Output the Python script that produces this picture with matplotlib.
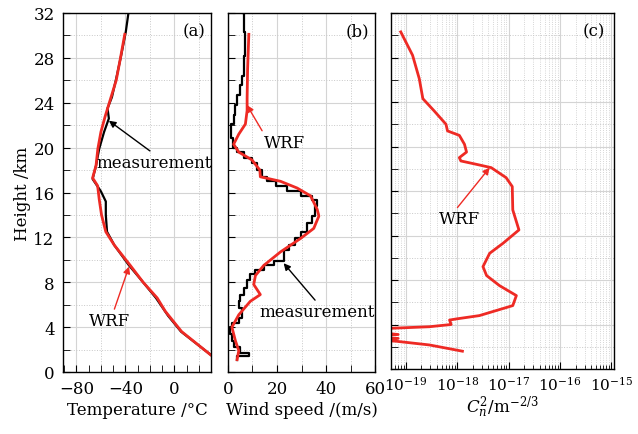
import numpy as np
import matplotlib
matplotlib.use("Agg")
import matplotlib.pyplot as plt
from matplotlib.ticker import MultipleLocator, LogLocator, NullFormatter

plt.rcParams['font.family'] = ['DejaVu Serif']
plt.rcParams['mathtext.fontset'] = 'dejavuserif'

RED = '#ee2a24'

# ---- Panel (a): temperature ----
ta_meas_h = [32.0, 30.3, 28.2, 26.4, 24.5, 23.5, 22.6, 21.4, 19.9, 18.4, 17.2, 16.1, 15.2, 14.0, 12.5, 11.3, 9.5, 8.0, 6.6, 5.0, 3.6, 1.6]
ta_meas_T = [-37.5, -39.7, -43.5, -47.0, -51.0, -54.6, -53.5, -57.4, -61.4, -64.0, -66.8, -60.0, -56.0, -56.0, -55.0, -49.0, -37.0, -25.5, -15.0, -5.0, 5.5, 29.0]
ta_wrf_h = [30.1, 28.0, 26.0, 24.4, 22.8, 21.4, 19.9, 18.4, 17.3, 16.6, 15.4, 14.0, 12.5, 11.3, 9.5, 8.0, 6.6, 5.4, 3.6, 1.5]
ta_wrf_T = [-40.5, -44.0, -47.5, -52.0, -56.5, -60.0, -62.5, -64.0, -66.8, -62.7, -61.4, -59.5, -56.0, -49.0, -36.0, -25.5, -14.0, -7.3, 6.0, 30.0]

# ---- Panel (b): wind speed ----
wb_meas_h = [32.0, 30.3, 28.2, 26.4, 25.6, 24.7, 23.8, 22.9, 22.1, 20.9, 20.0, 19.6, 19.1, 18.6, 18.0, 17.4, 17.0, 16.6, 16.1, 15.7, 15.3, 14.8, 13.9, 13.3, 12.5, 11.9, 11.3, 10.9, 10.4, 9.9, 9.5, 9.1, 8.7, 8.2, 7.5, 6.9, 6.3, 5.7, 4.8, 4.4, 4.0, 3.4, 2.8, 2.2, 1.7, 1.4, 1.1]
wb_meas_s = [6.1, 6.4, 6.8, 6.4, 5.7, 4.8, 3.7, 3.0, 2.3, 1.4, 1.9, 3.7, 6.4, 9.8, 11.9, 13.9, 16.0, 19.4, 24.1, 29.6, 34.4, 36.4, 35.7, 34.4, 32.3, 29.6, 27.5, 24.8, 23.0, 22.8, 18.7, 14.6, 11.2, 8.9, 7.8, 6.4, 5.0, 4.4, 5.7, 4.4, 1.6, 1.0, 1.6, 2.3, 5.0, 8.5, 3.7]
wb_wrf_h = [30.1, 27.0, 24.4, 23.3, 22.1, 21.2, 20.3, 19.6, 18.9, 18.0, 17.4, 17.0, 16.4, 15.7, 14.5, 13.9, 12.8, 11.9, 10.7, 9.5, 8.6, 7.8, 6.9, 6.3, 5.1, 4.0, 2.8, 1.9, 1.1]
wb_wrf_s = [8.5, 8.0, 7.8, 7.8, 7.1, 4.4, 2.3, 4.4, 9.8, 13.0, 13.2, 21.4, 28.2, 33.7, 36.4, 37.1, 35.0, 29.6, 21.4, 14.6, 11.2, 10.5, 13.2, 9.1, 4.4, 1.6, 3.0, 4.4, 3.7]

# ---- Panel (c): Cn2 (log10 values) ----
cn_h = [30.3, 28.2, 26.1, 24.3, 23.2, 22.0, 21.4, 21.0, 20.2, 19.5, 19.0, 18.7, 18.4, 18.1, 17.2, 16.4, 14.3, 12.5, 11.3, 10.4, 9.2, 8.4, 7.5, 6.6, 5.7, 4.8, 4.5, 4.4, 4.0, 3.8, 3.6, 3.3, 3.1, 3.0, 2.85, 2.75, 2.6, 2.5, 2.16, 1.6]
cn_log = [-19.1, -18.87, -18.74, -18.67, -18.45, -18.22, -18.19, -17.96, -17.86, -17.82, -17.96, -17.93, -17.63, -17.34, -17.05, -16.93, -16.92, -16.8, -17.11, -17.37, -17.5, -17.43, -17.18, -16.85, -16.92, -17.57, -18.02, -18.15, -18.12, -18.54, -19.6, -19.6, -19.15, -19.6, -19.6, -19.15, -19.6, -19.2, -18.54, -17.9]

fig = plt.figure(figsize=(6.38, 4.35), dpi=100)
ax1 = fig.add_axes([63/638, 1-373/435, (211-63)/638, (373-14)/435])
ax2 = fig.add_axes([228/638, 1-373/435, (375-228)/638, (373-14)/435])
ax3 = fig.add_axes([391/638, 1-370/435, (614-391)/638, (370-14)/435])

FS = 12

def style_y(ax, labels=True):
    ax.set_ylim(0, 32)
    ax.yaxis.set_major_locator(MultipleLocator(4))
    ax.yaxis.set_minor_locator(MultipleLocator(2))
    ax.grid(True, which='major', axis='y', color='#d4d4d4', lw=0.8, ls='-')
    ax.grid(True, which='minor', axis='y', color='#c8c8c8', lw=0.7, ls=':')
    ax.tick_params(axis='both', which='both', direction='in', top=False, right=False, labelsize=FS)
    ax.tick_params(axis='both', which='major', length=5)
    ax.tick_params(axis='both', which='minor', length=5)
    ax.tick_params(axis='x', which='both', pad=6)
    ax.tick_params(axis='y', which='both', pad=6)
    if not labels:
        ax.tick_params(axis='y', which='both', labelleft=False)
    for s in ax.spines.values():
        s.set_linewidth(1.0)
    ax.set_axisbelow(True)

# (a)
style_y(ax1)
ax1.set_xlim(-91, 30)
ax1.xaxis.set_minor_locator(MultipleLocator(10))
for xv in [-80, -40, 0]:
    ax1.axvline(xv, color='#d4d4d4', lw=0.8, zorder=0)
for xv in [-60, -20, 20]:
    ax1.axvline(xv, color='#c8c8c8', lw=0.7, ls=':', zorder=0)
ax1.set_xticks([-80, -40, 0])
ax1.set_xticklabels(['\u221280', '\u221240', '0'])
ax1.plot(ta_meas_T, ta_meas_h, color='black', lw=1.6)
ax1.plot(ta_wrf_T, ta_wrf_h, color=RED, lw=2.0)
ax1.set_xlabel('Temperature /\u00b0C', fontsize=FS, labelpad=3)
ax1.set_ylabel('Height /km', fontsize=FS, labelpad=2)
ax1.text(0.96, 0.975, '(a)', transform=ax1.transAxes, ha='right', va='top', fontsize=FS)
ax1.annotate('measurement', xy=(-53.5, 22.4), xytext=(-64, 18.7), fontsize=FS, va='center', ha='left',
             arrowprops=dict(arrowstyle='-|>', color='black', lw=1.0, mutation_scale=10, shrinkA=0, shrinkB=0,
                             relpos=(0.5, 1.0)))
ax1.annotate('WRF', xy=(-37, 9.4), xytext=(-70, 4.6), fontsize=FS, va='center', ha='left',
             arrowprops=dict(arrowstyle='-|>', color=RED, lw=1.0, mutation_scale=10, shrinkA=0, shrinkB=0,
                             relpos=(0.6, 1.0)))

# (b)
style_y(ax2, labels=False)
ax2.set_xlim(0, 60)
ax2.xaxis.set_major_locator(MultipleLocator(20))
ax2.xaxis.set_minor_locator(MultipleLocator(10))
ax2.grid(True, which='major', axis='x', color='#d4d4d4', lw=0.8, ls='-')
ax2.grid(True, which='minor', axis='x', color='#c8c8c8', lw=0.7, ls=':')
ax2.plot(wb_meas_s, wb_meas_h, color='black', lw=1.6, drawstyle='steps-post')
ax2.plot(wb_wrf_s, wb_wrf_h, color=RED, lw=2.0)
ax2.set_xlabel('Wind speed /(m/s)', fontsize=FS, labelpad=3)
ax2.text(0.96, 0.975, '(b)', transform=ax2.transAxes, ha='right', va='top', fontsize=FS)
ax2.annotate('WRF', xy=(7.7, 23.8), xytext=(23, 20.5), fontsize=FS, va='center', ha='center',
             arrowprops=dict(arrowstyle='-|>', color=RED, lw=1.0, mutation_scale=10, shrinkA=0, shrinkB=0,
                             relpos=(0.0, 1.0)))
ax2.annotate('measurement', xy=(22.7, 9.7), xytext=(36.5, 5.4), fontsize=FS, va='center', ha='center',
             arrowprops=dict(arrowstyle='-|>', color='black', lw=1.0, mutation_scale=10, shrinkA=0, shrinkB=0,
                             relpos=(0.5, 1.0)))

# (c)
style_y(ax3, labels=False)
ax3.set_xscale('log')
ax3.set_xlim(10**-19.29, 10**-14.95)
ax3.xaxis.set_minor_locator(LogLocator(base=10, subs=np.arange(2, 10), numticks=20))
ax3.xaxis.set_minor_formatter(NullFormatter())
ax3.set_xticks([1e-19, 1e-18, 1e-17, 1e-16, 1e-15])
ax3.set_xticklabels([r'$10^{-19}$', r'$10^{-18}$', r'$10^{-17}$', r'$10^{-16}$', r'$10^{-15}$'])
ax3.tick_params(axis='x', which='minor', length=3)
ax3.tick_params(axis='x', which='major', pad=4, labelsize=11)
ax3.grid(True, which='major', axis='x', color='#d4d4d4', lw=0.8, ls='-')
ax3.grid(True, which='minor', axis='x', color='#c8c8c8', lw=0.6, ls=':')
ax3.plot(10.0 ** np.array(cn_log), cn_h, color=RED, lw=2.0)
ax3.set_xlabel(r'$C_n^2$/m$^{-2/3}$', fontsize=FS, labelpad=1)
ax3.text(0.96, 0.975, '(c)', transform=ax3.transAxes, ha='right', va='top', fontsize=FS)
ax3.annotate('WRF', xy=(10**-17.37, 18.1), xytext=(10**-17.96, 13.5), fontsize=FS, va='center', ha='center',
             arrowprops=dict(arrowstyle='-|>', color=RED, lw=1.0, mutation_scale=10, shrinkA=0, shrinkB=0,
                             relpos=(0.4, 1.0)))

fig.savefig('out.png', dpi=100)
